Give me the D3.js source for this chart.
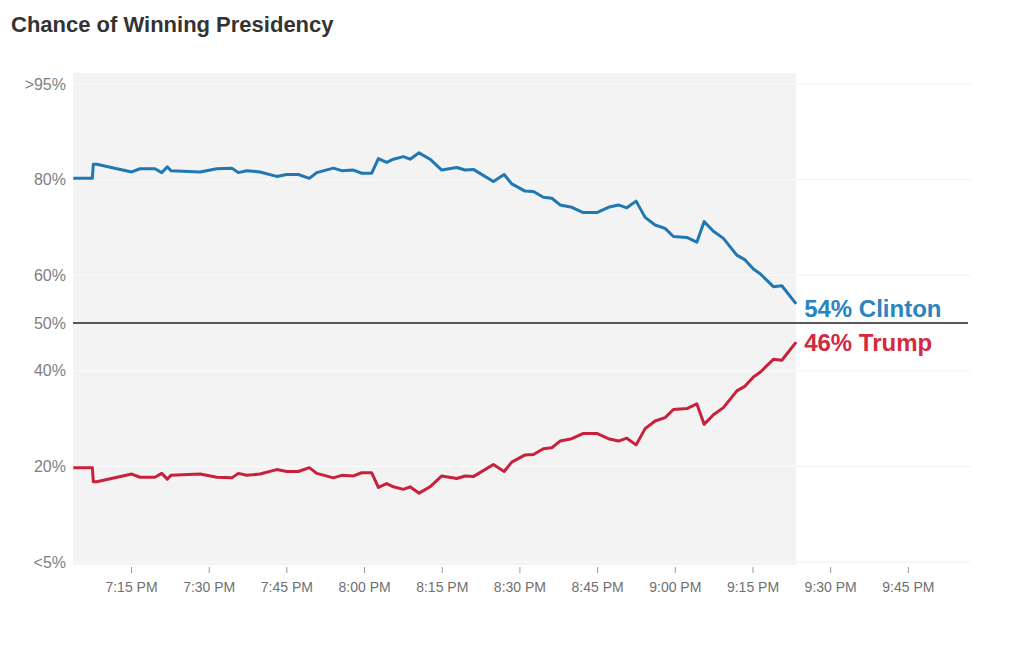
<!DOCTYPE html>
<html>
<head>
<meta charset="utf-8">
<script src="https://cdn.jsdelivr.net/npm/d3@7"></script>
<style>
  html, body { margin: 0; padding: 0; background: #fff; }
  svg { display: block; font-family: "Liberation Sans", Arial, sans-serif; }
</style>
</head>
<body>
<svg id="chart" width="1020" height="650"></svg>
<script>
// ---- data (minutes after 7:00 PM) ----
const minutes = [3.86,7.53,7.72,8.38,15.14,16.74,19.63,20.93,22.01,22.72,
  28.33,31.55,34.45,35.72,37.34,39.91,43.14,45.07,47.31,49.43,
  50.86,54.07,55.69,57.93,59.55,61.48,62.76,64.38,65.66,67.59,
  68.88,70.62,72.74,75.00,77.90,79.50,81.11,84.97,87.04,88.52,
  91.09,92.70,94.63,96.25,97.85,100.11,102.35,104.94,107.18,109.11,
  110.73,112.53,114.27,116.20,118.13,119.73,122.32,124.25,125.66,127.46,
  129.39,131.98,133.58,135.18,136.48,139.04,140.67,143.43];
const clinton = [80.2,80.2,82.4,82.4,81.2,81.7,81.7,81.1,82.0,81.4,
  81.2,81.7,81.8,81.1,81.4,81.2,80.5,80.8,80.8,80.2,
  81.1,81.8,81.4,81.5,81.0,81.0,83.3,82.7,83.2,83.6,
  83.2,84.2,83.2,81.5,81.9,81.5,81.6,79.6,80.8,79.1,
  77.6,77.5,76.3,76.1,74.7,74.2,73.1,73.1,74.2,74.7,
  74.1,75.5,72.1,70.5,69.8,68.1,67.9,66.9,71.2,69.2,
  67.7,64.2,63.2,61.3,60.3,57.6,57.8,54.0];
const trump = [19.8,19.8,17.6,17.6,18.8,18.3,18.3,18.9,18.0,18.6,
  18.8,18.3,18.2,18.9,18.6,18.8,19.5,19.2,19.2,19.8,
  18.9,18.2,18.6,18.5,19.0,19.0,16.7,17.3,16.8,16.4,
  16.8,15.8,16.8,18.5,18.1,18.5,18.4,20.4,19.2,20.9,
  22.4,22.5,23.7,23.9,25.3,25.8,26.9,26.9,25.8,25.3,
  25.9,24.5,27.9,29.5,30.2,31.9,32.1,33.1,28.8,30.8,
  32.3,35.8,36.8,38.7,39.7,42.4,42.2,46.0];
const yTickValues = [95, 80, 60, 50, 40, 20, 5];
const yTickLabels = [">95%", "80%", "60%", "50%", "40%", "20%", "<5%"];
const xDomainMinutes = [3.8, 177];
const title = "Chance of Winning Presidency";
const endLabels = ["54% Clinton", "46% Trump"];

// ---- layout ----
const svg = d3.select("#chart");
const pLeft = 73, pRight = 970, pTop = 73, pBottom = 565;
const base = new Date(2016, 10, 8, 19, 0, 0);
const toDate = m => new Date(base.getTime() + m * 60000);

const x = d3.scaleTime().domain(xDomainMinutes.map(toDate)).range([pLeft, pRight]);
const c = 323, u = 47.8;
const y = d3.scaleLinear()
  .domain([5, 20, 40, 50, 60, 80, 95])
  .range([c + 5*u, c + 3*u, c + u, c, c - u, c - 3*u, c - 5*u]);

const lastX = x(toDate(minutes[minutes.length - 1]));

// background
svg.append("rect").attr("x", pLeft).attr("y", pTop)
  .attr("width", lastX - pLeft).attr("height", pBottom - pTop)
  .attr("fill", "#f3f3f3");

// gridlines
const grid = svg.append("g");
yTickValues.filter(v => v !== 50).forEach(v => {
  grid.append("line").attr("x1", pLeft).attr("x2", lastX)
    .attr("y1", y(v)).attr("y2", y(v)).attr("stroke", "#fbfbfb").attr("stroke-width", 1);
  grid.append("line").attr("x1", lastX).attr("x2", pRight)
    .attr("y1", y(v)).attr("y2", y(v)).attr("stroke", "#eeeeee").attr("stroke-width", 1);
});

// 50% line
svg.append("line").attr("x1", pLeft).attr("x2", pRight - 2)
  .attr("y1", y(50)).attr("y2", y(50)).attr("stroke", "#222").attr("stroke-width", 1.5);

// y axis
const yAxis = d3.axisLeft(y).tickValues(yTickValues)
  .tickFormat((d, i) => yTickLabels[i]).tickSize(0).tickPadding(7);
const yg = svg.append("g").attr("transform", `translate(${pLeft},0)`).call(yAxis);
yg.select(".domain").remove();
yg.selectAll("text").attr("font-size", 16).attr("fill", "#808080")
  .attr("font-family", "'Liberation Sans', Arial, sans-serif");

// x axis
const xAxis = d3.axisBottom(x).ticks(d3.timeMinute.every(15))
  .tickFormat(d3.timeFormat("%-I:%M %p")).tickSize(6);
const xg = svg.append("g").attr("transform", `translate(0,567)`).call(xAxis);
xg.select(".domain").remove();
xg.selectAll(".tick line").attr("stroke", "#999");
xg.selectAll("text").attr("y", 15).attr("font-size", 14).attr("fill", "#707070")
  .attr("font-family", "'Liberation Sans', Arial, sans-serif");

// lines
const line = d3.line().x((d, i) => x(toDate(minutes[i]))).y(d => y(d));
svg.append("path").datum(clinton).attr("d", line)
  .attr("fill", "none").attr("stroke", "#1f78b2").attr("stroke-width", 3)
  .attr("stroke-linejoin", "round");
svg.append("path").datum(trump).attr("d", line)
  .attr("fill", "none").attr("stroke", "#c9203c").attr("stroke-width", 3)
  .attr("stroke-linejoin", "round");

// end labels
svg.append("text").attr("x", lastX + 8).attr("y", y(clinton[clinton.length - 1]) + 13)
  .attr("font-size", 24).attr("font-weight", "bold").attr("fill", "#2a84bd")
  .text(endLabels[0]);
svg.append("text").attr("x", lastX + 8).attr("y", y(trump[trump.length - 1]) + 9)
  .attr("font-size", 24).attr("font-weight", "bold").attr("fill", "#d12a42")
  .text(endLabels[1]);

// title
svg.append("text").attr("x", 11).attr("y", 32)
  .attr("font-size", 22).attr("font-weight", "bold").attr("fill", "#333")
  .text(title);
</script>
</body>
</html>
